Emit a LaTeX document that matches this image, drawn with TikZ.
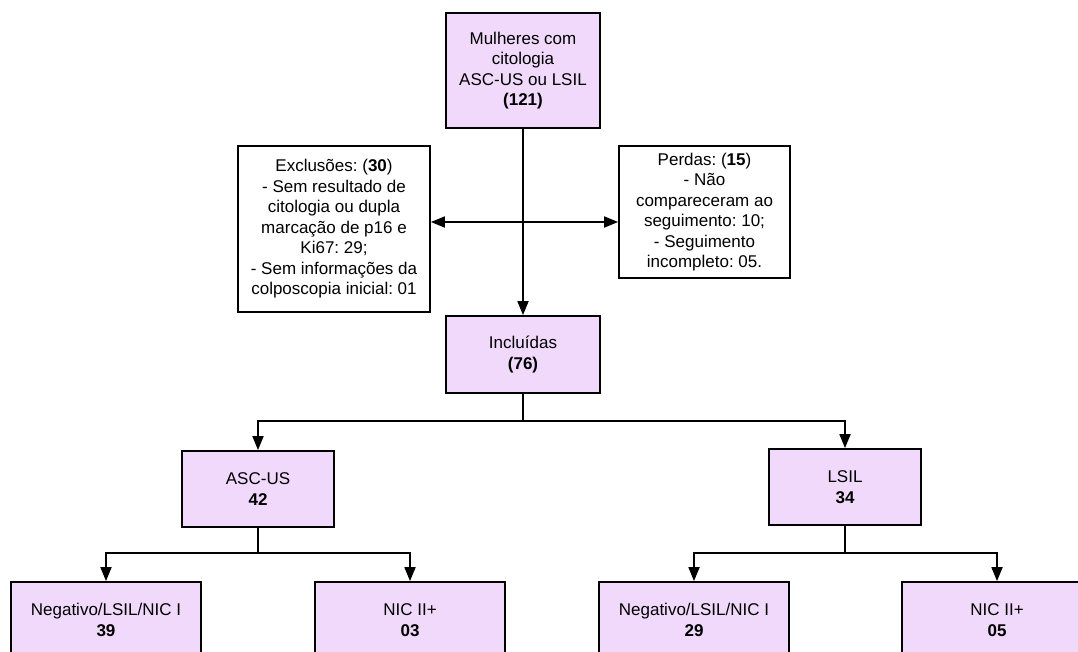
\documentclass[tikz,border=0pt]{standalone}
\usepackage{fontspec}
\setmainfont{Liberation Sans}
\usetikzlibrary{arrows.meta}
\frenchspacing

\definecolor{boxlilac}{RGB}{241,217,252}

\begin{document}
\begin{tikzpicture}[x=1pt, y=-1pt, line width=1.8pt,
    box/.style={draw, rectangle, fill=boxlilac, align=center, inner sep=0pt,
      font=\fontsize{17}{20.5}\selectfont},
    note/.style={draw, rectangle, fill=white, align=center, inner sep=0pt,
      font=\fontsize{17}{20.5}\selectfont},
    arr/.style={-{Triangle[length=14pt, width=11pt]}}]
      \clip (0,0) rectangle (1078,651);

      % top and side boxes
      \node[box, minimum width=154, minimum height=115] (women) at (523,70.5)
        {Mulheres com\\citologia\\ASC-US ou LSIL\\\textbf{(121)}};
      \node[note, minimum width=192, minimum height=166] (excl) at (334,229)
        {Exclusões: (\textbf{30})\\- Sem resultado de\\citologia ou dupla\\marcação de p16 e\\Ki67: 29;\\- Sem informações da\\colposcopia inicial: 01};
      \node[note, minimum width=171, minimum height=132] (lost) at (704.5,212)
        {Perdas: (\textbf{15})\\- Não\\compareceram ao\\seguimento: 10;\\- Seguimento\\incompleto: 05.};
      \node[box, minimum width=154, minimum height=77] (incl) at (523,354.5)
        {Incluídas\\\textbf{(76)}};

      % second and third level
      \node[box, minimum width=152, minimum height=76] (ascus) at (258,489) {ASC-US\\\textbf{42}};
      \node[box, minimum width=152, minimum height=76] (lsil) at (845,487) {LSIL\\\textbf{34}};
      \node[box, minimum width=190, minimum height=76] (negA) at (106,620) {Negativo/LSIL/NIC I\\\textbf{39}};
      \node[box, minimum width=190, minimum height=76] (nicA) at (410,620) {NIC II+\\\textbf{03}};
      \node[box, minimum width=190, minimum height=76] (negL) at (694,620) {Negativo/LSIL/NIC I\\\textbf{29}};
      \node[box, minimum width=190, minimum height=76] (nicL) at (997,620) {NIC II+\\\textbf{05}};

      \coordinate (split) at (523,222);
      \coordinate (fork) at (523,421);
      \coordinate (forkA) at (258,553);
      \coordinate (forkL) at (845,553);

      \draw[arr] (women) -- (incl);
      \draw[arr] (split) -- (split -| excl.east);
      \draw[arr] (split) -- (split -| lost.west);
      \draw (incl) -- (fork);
      \draw[arr] (fork) -| (ascus);
      \draw[arr] (fork) -| (lsil);
      \draw (ascus) -- (forkA);
      \draw[arr] (forkA) -| (negA);
      \draw[arr] (forkA) -| (nicA);
      \draw (lsil) -- (forkL);
      \draw[arr] (forkL) -| (negL);
      \draw[arr] (forkL) -| (nicL);
\end{tikzpicture}
\end{document}
